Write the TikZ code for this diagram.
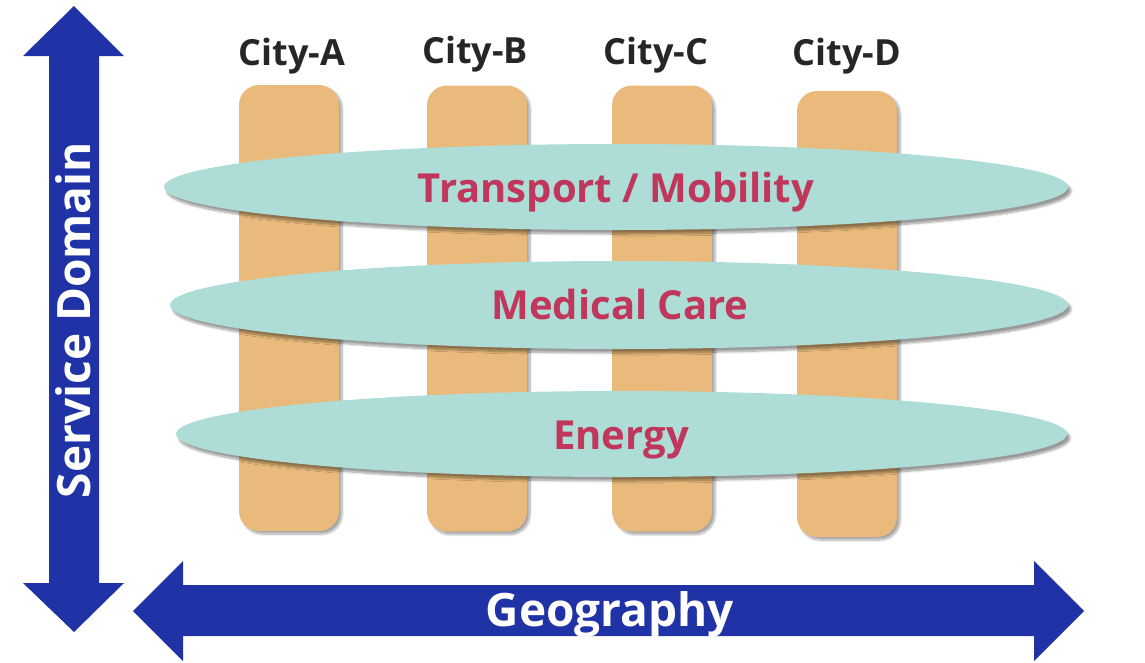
\documentclass[tikz,border=0pt]{standalone}
\usepackage{fontspec}
\setmainfont{Open Sans}
\usetikzlibrary{shapes.geometric,shadows.blur}
\definecolor{cityfill}{HTML}{E9BA7B}
\definecolor{domfill}{HTML}{ADDDD6}
\definecolor{axisblue}{HTML}{1F32A6}
\definecolor{domtext}{HTML}{C0375B}
\definecolor{citytext}{HTML}{262626}
\tikzset{
  citybox/.style={fill=cityfill, draw=none, rounded corners=20pt, minimum width=100pt, minimum height=446pt, inner sep=0pt,
    blur shadow={shadow xshift=3pt, shadow yshift=-3pt, shadow blur steps=10, shadow opacity=35}},
  svcellipse/.style={ellipse, fill=domfill, draw=none, inner sep=0pt, minimum height=86pt,
    blur shadow={shadow xshift=3pt, shadow yshift=-4pt, shadow blur steps=10, shadow opacity=40}},
  citylabel/.style={text=citytext, font=\bfseries\fontsize{36}{42}\selectfont, anchor=base, inner sep=0pt},
  domlabel/.style={text=domtext, font=\bfseries\fontsize{40}{47}\selectfont, anchor=base, inner sep=0pt},
  axislabel/.style={text=white, font=\bfseries\fontsize{46}{54}\selectfont, anchor=base, inner sep=0pt},
}
\begin{document}
\begin{tikzpicture}[x=1pt,y=-1pt]
\useasboundingbox (0,0) rectangle (1145,662);
% axes
\fill[axisblue] (74,6) -- (124,56) -- (99,56) -- (99,583) -- (124,583) -- (74,632) -- (23,583) -- (49,583) -- (49,56) -- (23,56) -- cycle;
\fill[axisblue] (133,611) -- (183,561) -- (183,585) -- (1034,585) -- (1034,561) -- (1084,611) -- (1034,661) -- (1034,636) -- (183,636) -- (183,661) -- cycle;
\node[axislabel, rotate=90] (svc) at (90,320) {Service Domain};
\node[axislabel] (geo) at (610,626) {Geography};
% cities
\node[citybox] (cA) at (289,308) {};
\node[citybox] (cB) at (477,308.5) {};
\node[citybox] (cC) at (662,308.5) {};
\node[citybox] (cD) at (847,314) {};
\node[citylabel] (lA) at (292,65) {City-A};
\node[citylabel] (lB) at (475,63) {City-B};
\node[citylabel] (lC) at (656,64) {City-C};
\node[citylabel] (lD) at (847,65) {City-D};
% domains
\node[svcellipse, minimum width=904pt] (dT) at (616,187) {};
\node[svcellipse, minimum width=898pt, minimum height=88pt] (dM) at (619,305) {};
\node[svcellipse, minimum width=891pt] (dE) at (621.5,434) {};
\node[domlabel] (tT) at (616,202) {Transport / Mobility};
\node[domlabel] (tM) at (620,319) {Medical Care};
\node[domlabel] (tE) at (621,449) {Energy};
\end{tikzpicture}
\end{document}
